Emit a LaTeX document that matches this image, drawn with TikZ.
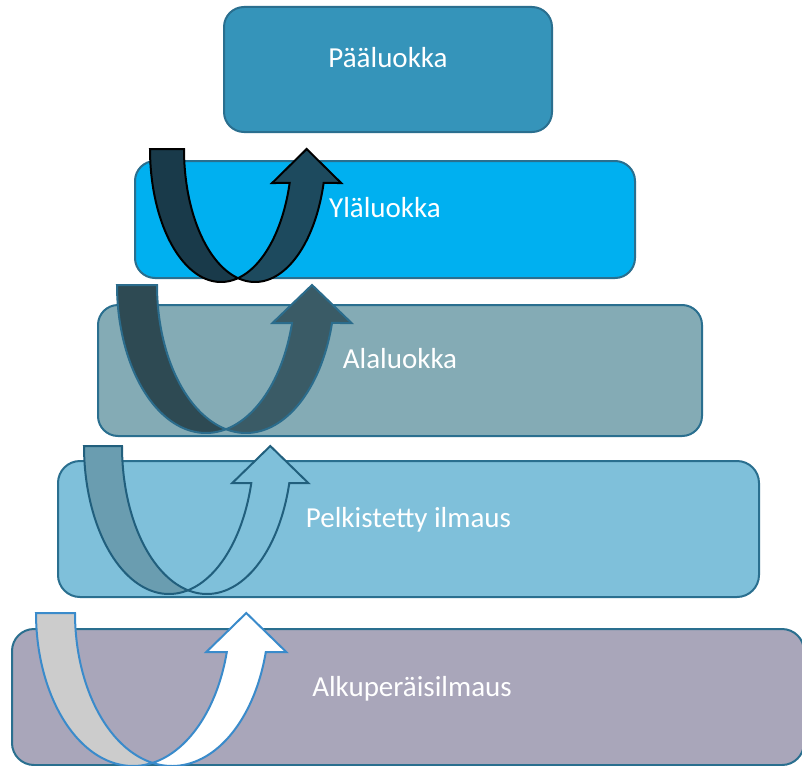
\documentclass[tikz,border=0pt]{standalone}
\usepackage{fontspec}
\setmainfont{Carlito}
\definecolor{boxline}{HTML}{2A6F8F}
\definecolor{cA}{HTML}{3594BA}
\definecolor{cB}{HTML}{00B0F0}
\definecolor{cC}{HTML}{84ABB5}
\definecolor{cD}{HTML}{7FC0DA}
\definecolor{cE}{HTML}{A9A6BA}
\definecolor{aOneL}{HTML}{193A4A}
\definecolor{aOneR}{HTML}{1D4A5E}
\definecolor{aTwoL}{HTML}{2E4A53}
\definecolor{aTwoR}{HTML}{3A5B66}
\definecolor{aTwoS}{HTML}{2B6C8C}
\definecolor{aThreeL}{HTML}{6A9DB0}
\definecolor{aThreeS}{HTML}{215F7D}
\definecolor{aFourS}{HTML}{3A8BCB}
\newcommand{\uturnarrow}[9]{%
  \pgfmathsetmacro\utP{acos(#5/(2*#3))}%
  \pgfmathsetmacro\utQ{180-\utP}%
  \pgfmathsetmacro\utH{asin((#6-#2)/#4)}%
  \pgfmathsetmacro\ucxb{#1+#5}%
  \pgfmathsetmacro\uxin{#1+#3*cos(\utH)}%
  \pgfmathsetmacro\uxc{\uxin+#5/2}%
  \draw[#8] plot[domain=180:\utP, samples=60] ({#1+#3*cos(\x)},{#2+#4*sin(\x)})
    -- plot[domain=\utQ:180, samples=60] ({\ucxb+#3*cos(\x)},{#2+#4*sin(\x)}) -- cycle;
  \draw[#9] plot[domain=\utP:\utH, samples=60] ({#1+#3*cos(\x)},{#2+#4*sin(\x)})
    -- ({\uxc-#7},#6) -- (\uxc,#2) -- ({\uxc+#7},#6)
    -- plot[domain=\utH:\utQ, samples=60] ({\ucxb+#3*cos(\x)},{#2+#4*sin(\x)}) -- cycle;
}
\tikzset{
  box/.style={draw=boxline, line width=2pt, rounded corners=20pt, inner sep=0pt, outer sep=0pt},
  lbl/.style={text=white, anchor=base, inner sep=0pt, font=\fontsize{29}{35}\selectfont},
  arrline/.style={line width=2pt, line join=miter},
}
\begin{document}
\begin{tikzpicture}[x=1pt,y=-1pt]
\useasboundingbox (0,0) rectangle (802,765);
\fill[white] (0,0) rectangle (802,765);
% boxes
\node[box, fill=cA, minimum width=328pt, minimum height=125pt] (b1) at (388,69.5) {};
\node[box, fill=cB, minimum width=500pt, minimum height=117pt] (b2) at (385,219.5) {};
\node[box, fill=cC, minimum width=604pt, minimum height=131pt] (b3) at (400,370.5) {};
\node[box, fill=cD, minimum width=701pt, minimum height=136pt, rounded corners=22pt] (b4) at (408.5,529) {};
\node[box, fill=cE, minimum width=792pt, minimum height=136pt, rounded corners=22pt] (b5) at (408,697) {};
% arrows
\uturnarrow{221}{149}{71}{133}{34}{183}{34.5}{arrline, draw=black, fill=aOneL}{arrline, draw=black, fill=aOneR}
\uturnarrow{206}{285}{89}{148}{40}{323}{39.5}{arrline, draw=aTwoS, fill=aTwoL}{arrline, draw=aTwoS, fill=aTwoR}
\uturnarrow{169}{446}{85}{148}{38}{483}{38}{arrline, draw=aThreeS, fill=aThreeL}{arrline, draw=aThreeS, fill=cD}
\uturnarrow{133}{613}{97}{153}{39}{652}{40}{arrline, draw=aFourS, fill=black!20}{arrline, draw=aFourS, fill=white}
% labels
\node[lbl] (t1) at (388,68) {Pääluokka};
\node[lbl] (t2) at (385,217) {Yläluokka};
\node[lbl] (t3) at (400,368) {Alaluokka};
\node[lbl] (t4) at (408.5,527) {Pelkistetty ilmaus};
\node[lbl] (t5) at (412,696) {Alkuperäisilmaus};
\end{tikzpicture}
\end{document}
